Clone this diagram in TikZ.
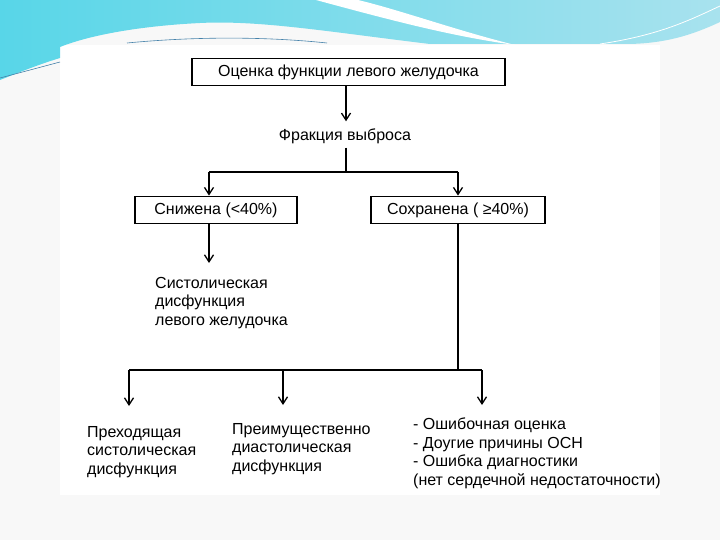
\documentclass[tikz,border=0pt]{standalone}
\usepackage{fontspec}
\setmainfont{Liberation Sans}
\usetikzlibrary{arrows.meta, positioning, calc}
\definecolor{slidebg}{RGB}{248,248,248}
\definecolor{swooshcyan}{RGB}{88,214,232}
\definecolor{swooshblue}{RGB}{128,188,214}
\definecolor{swooshlight}{RGB}{168,226,238}
\definecolor{swooshline}{RGB}{70,130,170}
\tikzset{
  flowbox/.style={draw=black, line width=1.8pt, minimum height=27pt, inner sep=0pt,
    font=\fontsize{16}{18.5}\selectfont},
  flowtext/.style={font=\fontsize{16}{18.5}\selectfont, align=left, inner sep=0pt},
  flowline/.style={line width=1.3pt},
  flowarrow/.style={flowline, -{Straight Barb[length=7pt, width=9pt, line width=1.3pt]}},
}
\begin{document}
\begin{tikzpicture}[x=1pt, y=-1pt]
  \useasboundingbox (0,0) rectangle (720,540);
  % slide background and panel
  \fill[slidebg] (0,0) rectangle (720,540);
  \fill[white] (60,45) rectangle (660,495);
  % top swoosh
  \shade[left color=swooshcyan, middle color=swooshblue, right color=swooshlight]
    (0,0) -- (720,0) -- (720,22) .. controls (690,36) and (665,43) .. (630,44)
    -- (430,44) .. controls (330,32) and (260,20) .. (200,23)
    .. controls (140,26) and (90,35) .. (60,47) -- (60,58)
    .. controls (40,64) and (20,72) .. (0,80) -- cycle;
  \fill[white] (316,0) .. controls (390,20) and (450,36) .. (515,45)
    .. controls (455,30) and (400,10) .. (358,0) -- cycle;
  \draw[swooshline, line width=0.6pt] (127,43) .. controls (200,36) and (270,37) .. (327,43);
  \draw[swooshline, line width=0.6pt] (0,78) -- (60,62);
  \draw[white, line width=0.8pt] (600,44) .. controls (660,35) and (690,20) .. (720,6);

  % boxes and labels
  \node[flowbox, minimum width=313pt] (lvf) at (348.5,72) {Оценка функции левого желудочка};
  \node[flowtext] (ef) at (345,136) {Фракция выброса};
  \node[flowbox, minimum width=162pt] (low) at (216,210) {Снижена (<40\%)};
  \node[flowbox, minimum width=174pt] (kept) at (458,210) {Сохранена ( ≥40\%)};
  \node[flowtext, anchor=north west] (sys) at (155,277)
    {Систолическая\\дисфункция\\левого желудочка};
  \node[flowtext, anchor=north west] (trans) at (87,426)
    {Преходящая\\систолическая\\дисфункция};
  \node[flowtext, anchor=north west] (diast) at (232,423)
    {Преимущественно\\диастолическая\\дисфункция};
  \node[flowtext, anchor=north west] (errs) at (413,418)
    {- Ошибочная оценка\\- Доугие причины ОСН\\- Ошибка диагностики\\(нет сердечной недостаточности)};

  % junctions
  \coordinate (split) at (346,172);
  \coordinate (lowin) at (209,172);
  \coordinate (keptin) at (458,172);
  \coordinate (busL) at (129,370);
  \coordinate (busM) at (283,370);
  \coordinate (busJ) at (458,370);
  \coordinate (busR) at (482,370);

  % connectors
  \draw[flowarrow, shorten >=7pt] (lvf.south -| split) -- (split |- ef.north);
  \draw[flowline] ([yshift=-4pt]split |- ef.south) -- (split);
  \draw[flowline] (lowin) -- (keptin);
  \draw[flowarrow] (lowin) -- (lowin |- low.north);
  \draw[flowarrow] (keptin) -- (kept.north);
  \draw[flowarrow, shorten >=14pt] (lowin |- low.south) -- (lowin |- sys.north);
  \draw[flowline] (kept.south) -- (busJ);
  \draw[flowline] (busL) -- (busR);
  \draw[flowarrow, shorten >=20pt] (busL) -- (busL |- trans.north);
  \draw[flowarrow, shorten >=18pt] (busM) -- (busM |- diast.north);
  \draw[flowarrow, shorten >=13pt] (busR) -- (busR |- errs.north);
\end{tikzpicture}
\end{document}
